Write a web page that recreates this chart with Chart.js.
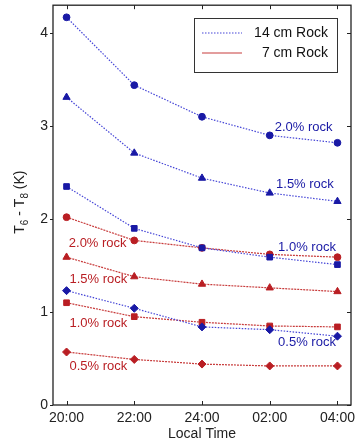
<!DOCTYPE html>
<html>
<head>
<meta charset="utf-8">
<script src="https://cdn.jsdelivr.net/npm/chart.js@4"></script>
<style>
  html, body { margin: 0; padding: 0; background: #fff; }
  #wrap { width: 358px; height: 443px; }
</style>
</head>
<body>
<div id="wrap"><canvas id="temp_chart"></canvas></div>
<script>
// values
const times = ["20:00", "22:00", "24:00", "02:00", "04:00"];
const rock14_20 = [4.17, 3.44, 3.10, 2.90, 2.82];
const rock14_15 = [3.31, 2.71, 2.44, 2.28, 2.19];
const rock14_10 = [2.35, 1.90, 1.69, 1.59, 1.51];
const rock14_05 = [1.23, 1.04, 0.84, 0.81, 0.74];
const rock7_20 = [2.02, 1.77, 1.69, 1.62, 1.59];
const rock7_15 = [1.59, 1.38, 1.30, 1.26, 1.22];
const rock7_10 = [1.10, 0.95, 0.89, 0.85, 0.84];
const rock7_05 = [0.57, 0.49, 0.44, 0.42, 0.42];
const yTicks = [0, 1, 2, 3, 4];

const BLUE = "rgb(25, 25, 165)";
const BLUE_LINE = "rgb(70, 70, 215)";
const RED = "rgb(185, 30, 35)";
const RED_LINE = "rgb(200, 60, 60)";
const FONT = "'Liberation Sans', Arial, sans-serif";

(function () {
  const grapharea = document.getElementById("temp_chart");

  const toPts = (arr) => arr.map((v, i) => ({ x: i, y: v }));

  const radii = { circle: 3.4, triangle: 4.2, rect: 4, rectRot: 4 };

  function series(label, values, color, lineColor, shape, dash) {
    return {
      label: label,
      data: toPts(values),
      borderColor: lineColor,
      backgroundColor: color,
      pointBackgroundColor: color,
      pointBorderColor: color,
      pointStyle: shape,
      pointRadius: radii[shape],
      pointBorderWidth: 1,
      borderWidth: 1.2,
      borderDash: dash,
      tension: 0,
    };
  }

  const blueDash = [1.5, 1.5];
  const redDash = [2, 1];

  const data = {
    datasets: [
      series("14 cm 2.0%", rock14_20, BLUE, BLUE_LINE, "circle", blueDash),
      series("14 cm 1.5%", rock14_15, BLUE, BLUE_LINE, "triangle", blueDash),
      series("14 cm 1.0%", rock14_10, BLUE, BLUE_LINE, "rect", blueDash),
      series("14 cm 0.5%", rock14_05, BLUE, BLUE_LINE, "rectRot", blueDash),
      series("7 cm 2.0%", rock7_20, RED, RED_LINE, "circle", redDash),
      series("7 cm 1.5%", rock7_15, RED, RED_LINE, "triangle", redDash),
      series("7 cm 1.0%", rock7_10, RED, RED_LINE, "rect", redDash),
      series("7 cm 0.5%", rock7_05, RED, RED_LINE, "rectRot", redDash),
    ],
  };

  // in-plot text labels, placed in data units
  const notes = [
    { text: "2.0% rock", x: 3.5, y: 2.99, color: BLUE },
    { text: "1.5% rock", x: 3.52, y: 2.37, color: BLUE },
    { text: "1.0% rock", x: 3.55, y: 1.70, color: BLUE },
    { text: "0.5% rock", x: 3.55, y: 0.67, color: BLUE },
    { text: "2.0% rock", x: 0.46, y: 1.74, color: RED },
    { text: "1.5% rock", x: 0.47, y: 1.35, color: RED },
    { text: "1.0% rock", x: 0.47, y: 0.88, color: RED },
    { text: "0.5% rock", x: 0.47, y: 0.42, color: RED },
  ];

  // y title with real subscripts: [text, isSubscript]
  const yTitle = [["T", false], ["6", true], [" - T", false], ["8", true], [" (K)", false]];

  const extras = {
    id: "extras",
    afterDatasetsDraw(chart) {
      const ctx = chart.ctx;
      const a = chart.chartArea;
      const xs = chart.scales.x;
      const ys = chart.scales.y;
      ctx.save();

      // frame
      ctx.strokeStyle = "#222";
      ctx.lineWidth = 1.3;
      ctx.strokeRect(a.left, a.top, a.right - a.left, a.bottom - a.top);

      // inward ticks on all sides
      ctx.lineWidth = 1;
      const tl = 4;
      times.forEach((t, i) => {
        const px = Math.round(xs.getPixelForValue(i)) + 0.5;
        ctx.beginPath();
        ctx.moveTo(px, a.bottom);
        ctx.lineTo(px, a.bottom - tl);
        ctx.moveTo(px, a.top);
        ctx.lineTo(px, a.top + tl);
        ctx.stroke();
      });
      yTicks.forEach((v) => {
        const py = Math.round(ys.getPixelForValue(v)) + 0.5;
        ctx.beginPath();
        ctx.moveTo(a.left - 3, py);
        ctx.lineTo(a.left, py);
        ctx.moveTo(a.right, py);
        ctx.lineTo(a.right - tl, py);
        ctx.stroke();
      });

      // text notes
      ctx.font = "13px " + FONT;
      ctx.textAlign = "center";
      ctx.textBaseline = "middle";
      notes.forEach((n) => {
        ctx.fillStyle = n.color;
        ctx.fillText(n.text, xs.getPixelForValue(n.x), ys.getPixelForValue(n.y));
      });

      // y axis title, rotated
      const big = "14px " + FONT, small = "10px " + FONT;
      let total = 0;
      yTitle.forEach(([s, sub]) => {
        ctx.font = sub ? small : big;
        total += ctx.measureText(s).width;
      });
      ctx.translate(24, (a.top + a.bottom) / 2 - 3);
      ctx.rotate(-Math.PI / 2);
      ctx.textAlign = "left";
      ctx.textBaseline = "alphabetic";
      ctx.fillStyle = "#222";
      let cx = -total / 2;
      yTitle.forEach(([s, sub]) => {
        ctx.font = sub ? small : big;
        ctx.fillText(s, cx, sub ? 4 : 0);
        cx += ctx.measureText(s).width;
      });
      ctx.setTransform(1, 0, 0, 1, 0, 0);

      // legend box
      const lx = 194, ly = 18, lw = 143, lh = 54;
      ctx.fillStyle = "#fff";
      ctx.fillRect(lx, ly, lw, lh);
      ctx.strokeStyle = "#333";
      ctx.lineWidth = 1;
      ctx.strokeRect(lx + 0.5, ly + 0.5, lw, lh);
      const entries = [
        { text: "14 cm Rock", color: BLUE_LINE, dash: [1.5, 1.5], y: ly + 15 },
        { text: "7 cm Rock", color: RED_LINE, dash: [], y: ly + 35 },
      ];
      ctx.font = "14px " + FONT;
      ctx.textAlign = "right";
      ctx.textBaseline = "middle";
      entries.forEach((e) => {
        ctx.strokeStyle = e.color;
        ctx.lineWidth = 1.2;
        ctx.setLineDash(e.dash);
        ctx.beginPath();
        ctx.moveTo(lx + 8, e.y);
        ctx.lineTo(lx + 48, e.y);
        ctx.stroke();
        ctx.setLineDash([]);
        ctx.fillStyle = "#111";
        ctx.fillText(e.text, lx + 134, e.y);
      });

      ctx.restore();
    },
  };

  const config = {
    type: "line",
    data: data,
    options: {
      responsive: true,
      maintainAspectRatio: false,
      animation: false,
      layout: { padding: { top: 5, right: 7, left: 0, bottom: 0 } },
      scales: {
        x: {
          type: "linear",
          min: -0.2,
          max: 4.2,
          afterBuildTicks: (s) => {
            s.ticks = times.map((t, i) => ({ value: i }));
          },
          afterFit: (s) => {
            s.height = 38;
            s.paddingLeft = 0;
            s.paddingRight = 0;
          },
          grid: { display: false, drawTicks: false },
          border: { display: false },
          ticks: {
            padding: 5,
            color: "#222",
            font: { size: 14, family: FONT },
            callback: (v) => times[v],
            maxRotation: 0,
          },
          title: {
            display: true,
            text: "Local Time",
            color: "#222",
            padding: { top: 0, bottom: 0 },
            font: { size: 14, family: FONT },
          },
        },
        y: {
          min: 0,
          max: 4.3,
          afterBuildTicks: (s) => {
            s.ticks = yTicks.map((v) => ({ value: v }));
          },
          afterFit: (s) => {
            s.width = 53;
            s.paddingTop = 0;
            s.paddingBottom = 0;
          },
          grid: { display: false, drawTicks: false },
          border: { display: false },
          ticks: {
            padding: 5,
            color: "#222",
            font: { size: 14, family: FONT },
          },
        },
      },
      plugins: {
        legend: { display: false },
        tooltip: { enabled: false },
      },
    },
    plugins: [extras],
  };

  new Chart(grapharea, config);
})();
</script>
</body>
</html>
